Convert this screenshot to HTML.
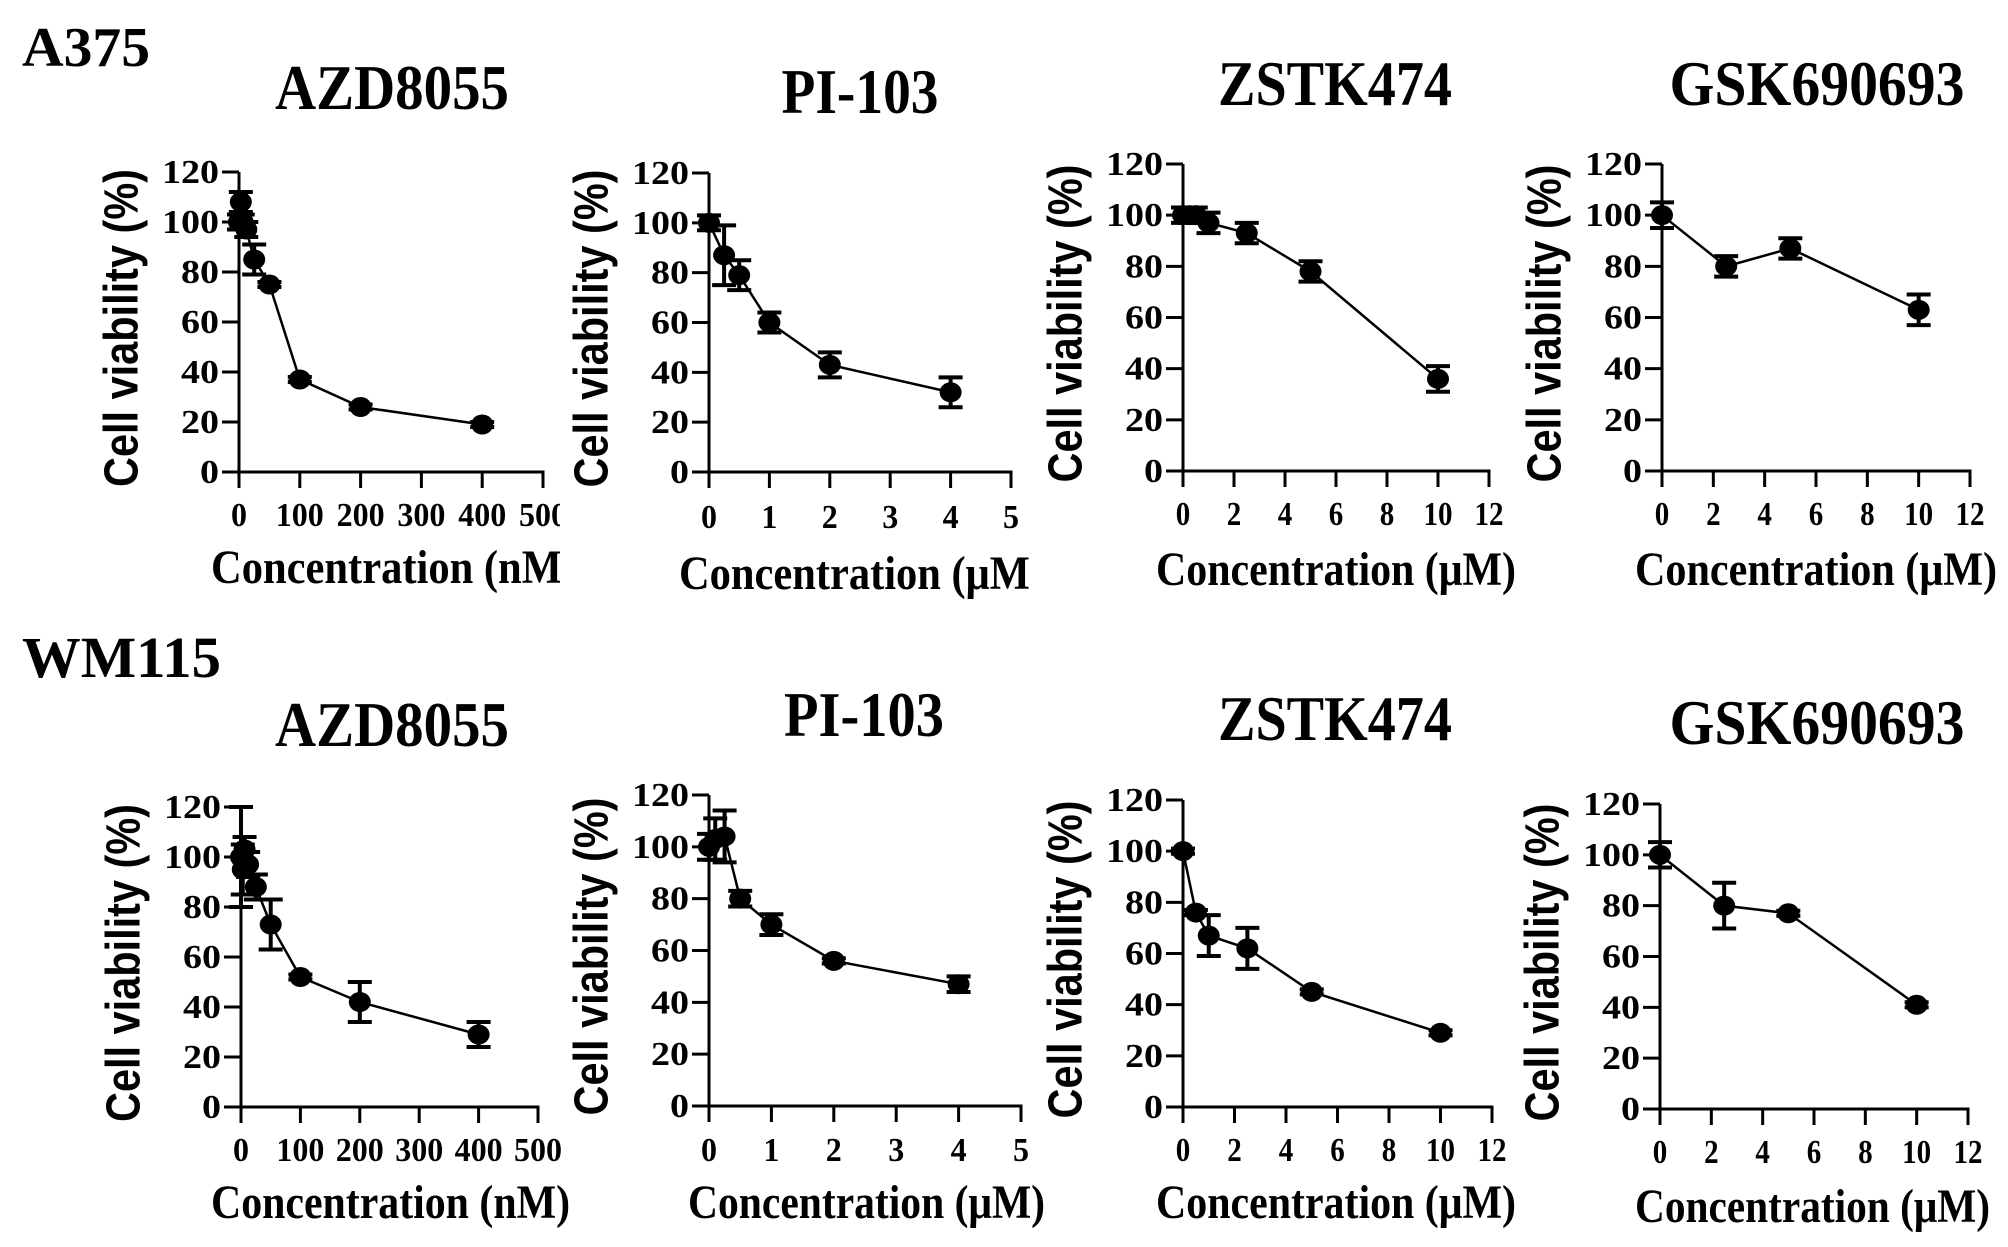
<!DOCTYPE html>
<html><head><meta charset="utf-8"><style>
html,body{margin:0;padding:0;background:#fff;}
svg{display:block;}
</style></head><body>
<svg id="fig" width="2008" height="1247" viewBox="0 0 2008 1247" xmlns="http://www.w3.org/2000/svg">
<rect width="2008" height="1247" fill="#fff"/>
<text x="22" y="66" font-family="Liberation Serif, serif" font-weight="bold" font-size="56" textLength="128" lengthAdjust="spacingAndGlyphs">A375</text>
<text x="22" y="677" font-family="Liberation Serif, serif" font-weight="bold" font-size="58" textLength="199" lengthAdjust="spacingAndGlyphs">WM115</text>
</svg>
<script>
// ---- data ----
const p1X=[0,3,6,12,25,50,100,200,400];
const p1Y=[100,108,100,97,85,75,37,26,19];
const p1E=[3,4,3,3,6,1,1,1,1];
const p2X=[0,0.25,0.5,1,2,4];
const p2Y=[100,87,79,60,43,32];
const p2E=[3,12,6,4,5,6];
const p3X=[0,0.25,0.5,1,2.5,5,10];
const p3Y=[100,100,100,97,93,78,36];
const p3E=[3,3,3,4,4,4,5];
const p4X=[0,2.5,5,10];
const p4Y=[100,80,87,63];
const p4E=[5,4,4,6];
const p5X=[0,3,6,12,25,50,100,200,400];
const p5Y=[100,95,103,97,88,73,52,42,29];
const p5E=[20,10,5,5,5,10,1,8,5];
const p6X=[0,0.1,0.25,0.5,1,2,4];
const p6Y=[100,103,104,80,70,56,47];
const p6E=[5,8,10,3,4,1,3];
const p7X=[0,0.5,1,2.5,5,10];
const p7Y=[100,76,67,62,45,29];
const p7E=[1,1,8,8,1,1];
const p8X=[0,2.5,5,10];
const p8Y=[100,80,77,41];
const p8E=[5,9,1,1];
const yTicks=[0,20,40,60,80,100,120];
const nmTicks=[0,100,200,300,400,500];
const um5Ticks=[0,1,2,3,4,5];
const um12Ticks=[0,2,4,6,8,10,12];

const NS='http://www.w3.org/2000/svg';
const svg=document.getElementById('fig');
function mk(tag,attrs,parent){const e=document.createElementNS(NS,tag);for(const k in attrs)e.setAttribute(k,attrs[k]);(parent||svg).appendChild(e);return e;}
function txt(s,attrs,parent){const e=mk('text',attrs,parent);e.textContent=s;return e;}

const panels=[
 {id:'a375-azd8055',title:'AZD8055',tc:392,tb:109,tw:234,ax:239,y120:172,y0:472,xmax:500,xend:543,ticks:nmTicks,cw:16,lb:524,xt:'Concentration (nM)',xtx:211,xtb:581,xtw:365,clip:560,X:p1X,Y:p1Y,E:p1E},
 {id:'a375-pi103',title:'PI-103',tc:860,tb:113,tw:157,ax:709,y120:173,y0:472,xmax:5,xend:1011,ticks:um5Ticks,cw:16,lb:526,xt:'Concentration (\u03bcM)',xtx:679,xtb:587,xtw:365,clip:1030,X:p2X,Y:p2Y,E:p2E},
 {id:'a375-zstk474',title:'ZSTK474',tc:1335,tb:105,tw:234,ax:1183,y120:164,y0:471,xmax:12,xend:1489,ticks:um12Ticks,cw:14.5,lb:523,xt:'Concentration (\u03bcM)',xtx:1156,xtb:583,xtw:360,clip:2008,X:p3X,Y:p3Y,E:p3E},
 {id:'a375-gsk690693',title:'GSK690693',tc:1817,tb:105,tw:295,ax:1662,y120:164,y0:471,xmax:12,xend:1970,ticks:um12Ticks,cw:14.5,lb:523,xt:'Concentration (\u03bcM)',xtx:1635,xtb:583,xtw:362,clip:2008,X:p4X,Y:p4Y,E:p4E},
 {id:'wm115-azd8055',title:'AZD8055',tc:392,tb:746,tw:234,ax:241,y120:807,y0:1107,xmax:500,xend:538,ticks:nmTicks,cw:16,lb:1159,xt:'Concentration (nM)',xtx:211,xtb:1216,xtw:359,clip:2008,X:p5X,Y:p5Y,E:p5E},
 {id:'wm115-pi103',title:'PI-103',tc:864,tb:736,tw:160,ax:709,y120:795,y0:1106,xmax:5,xend:1021,ticks:um5Ticks,cw:16,lb:1159,xt:'Concentration (\u03bcM)',xtx:688,xtb:1216,xtw:357,clip:2008,X:p6X,Y:p6Y,E:p6E},
 {id:'wm115-zstk474',title:'ZSTK474',tc:1335,tb:740,tw:234,ax:1183,y120:800,y0:1107,xmax:12,xend:1492,ticks:um12Ticks,cw:14.5,lb:1159,xt:'Concentration (\u03bcM)',xtx:1156,xtb:1216,xtw:360,clip:2008,X:p7X,Y:p7Y,E:p7E},
 {id:'wm115-gsk690693',title:'GSK690693',tc:1817,tb:744,tw:295,ax:1660,y120:804,y0:1109,xmax:12,xend:1968,ticks:um12Ticks,cw:14.5,lb:1161,xt:'Concentration (\u03bcM)',xtx:1635,xtb:1220,xtw:355,clip:2008,X:p8X,Y:p8Y,E:p8E}
];

const serif='Liberation Serif, serif';
panels.forEach((p,i)=>{
 const g=mk('g',{});
 
 
 const xs=v=>p.ax+(v/p.xmax)*(p.xend-p.ax);
 const ys=v=>p.y0-(v/120)*(p.y0-p.y120);
 const t=txt(p.title,{x:p.tc,y:p.tb,'text-anchor':'middle','font-family':serif,'font-weight':'bold','font-size':64,textLength:p.tw,lengthAdjust:'spacingAndGlyphs'},g);
 
 
 const ya=mk('line',{x1:p.ax,y1:p.y120,x2:p.ax,y2:p.y0,stroke:'#000','stroke-width':3},g);
 
 
 const xa=mk('line',{x1:p.ax-1.5,y1:p.y0,x2:p.xend+1.5,y2:p.y0,stroke:'#000','stroke-width':3},g);
 
 
 yTicks.forEach(v=>{
  const y=ys(v);
  mk('line',{x1:p.ax-17,y1:y,x2:p.ax,y2:y,stroke:'#000','stroke-width':3},g);
  const s=String(v);
  const l=txt(s,{x:p.ax-20,y:y+11,'text-anchor':'end','font-family':serif,'font-weight':'bold','font-size':34,textLength:s.length*19,lengthAdjust:'spacingAndGlyphs'},g);
  
  
 });
 const cg=mk('g',{},g);
 if(p.clip<2008){
  const cp=mk('clipPath',{id:'clip'+i},g);
  mk('rect',{x:0,y:0,width:p.clip,height:1247},cp);
  cg.setAttribute('clip-path','url(#clip'+i+')');
 }
 p.ticks.forEach(v=>{
  const x=xs(v);
  mk('line',{x1:x,y1:p.y0,x2:x,y2:p.y0+16,stroke:'#000','stroke-width':3},g);
  const s=String(v);
  const l=txt(s,{x:x,y:p.lb+2,'text-anchor':'middle','font-family':serif,'font-weight':'bold','font-size':34,textLength:s.length*p.cw,lengthAdjust:'spacingAndGlyphs'},cg);
  
  
 });
 const xt=txt(p.xt,{x:p.xtx,y:p.xtb+2,'font-family':serif,'font-weight':'bold','font-size':48,textLength:p.xtw,lengthAdjust:'spacingAndGlyphs'},cg);
 
 
 const cy=(p.y0+p.y120)/2+6, cx=p.ax-117;
 const yt=txt('Cell viability (%)',{x:cx,y:cy,transform:'rotate(-90 '+cx+' '+cy+')','text-anchor':'middle','dominant-baseline':'central','font-family':'Liberation Sans, sans-serif','font-weight':'bold','font-size':48,textLength:318,lengthAdjust:'spacingAndGlyphs'},g);
 
 
 const pts=p.X.map((x,k)=>xs(x)+','+ys(p.Y[k])).join(' ');
 const pl=mk('polyline',{points:pts,fill:'none',stroke:'#000','stroke-width':2.5},g);
 
 
 p.X.forEach((x,k)=>{
  const px=xs(x), py=ys(p.Y[k]), e1=ys(p.Y[k]+p.E[k]), e2=ys(p.Y[k]-p.E[k]);
  const eb=mk('path',{d:`M${px},${e1}V${e2}M${px-12},${e1}H${px+12}M${px-12},${e2}H${px+12}`,stroke:'#000','stroke-width':4,fill:'none'},g);
  
  
  const c=mk('ellipse',{cx:px,cy:py,rx:11,ry:10,fill:'#000'},g);
  
  
 });
});
</script>
</body></html>
